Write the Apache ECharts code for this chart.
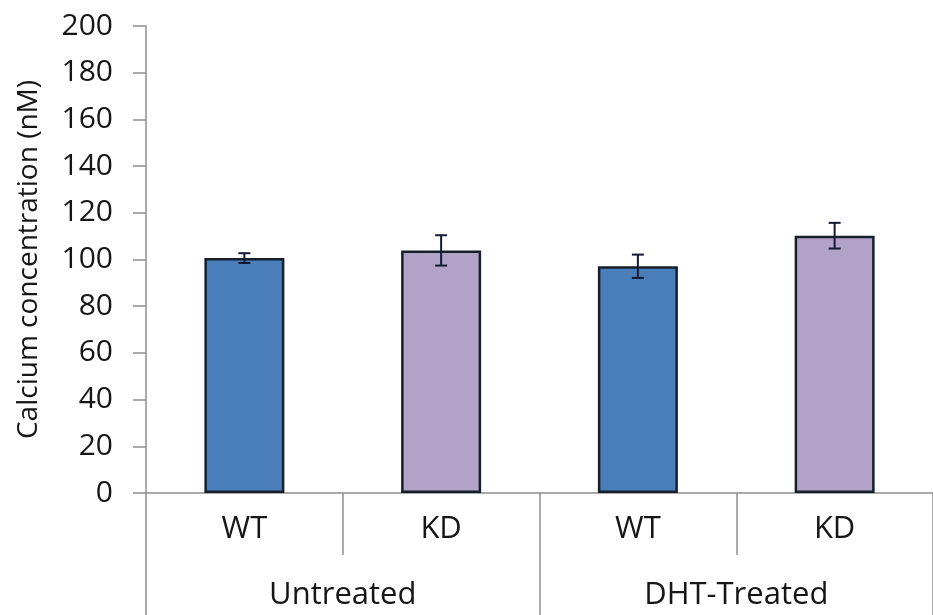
<!DOCTYPE html>
<html>
<head>
<meta charset="utf-8">
<script src="https://cdn.jsdelivr.net/npm/echarts@6/dist/echarts.min.js"></script>
<style>
  html, body { margin: 0; padding: 0; background: #fff; }
  #chart { width: 933px; height: 615px; }
</style>
</head>
<body>
<div id="chart"></div>
<script>
// Calcium concentration per genotype, grouped by treatment
const genotypes = ['WT', 'KD', 'WT', 'KD'];
const treatments = ['Untreated', 'DHT-Treated'];
const means = [100.6, 103.9, 97.1, 110.2];
const errors = [2.1, 6.5, 5.0, 5.5];
const yTicks = { min: 0, max: 200, step: 20 };

const fillColors = { WT: '#4a7ebb', KD: '#b3a2c7' };
const axisGrey = '#8e8e8e';
const textColor = '#161616';
const fontFamily = '"Open Sans", "Liberation Sans", sans-serif';

const chart = echarts.init(document.getElementById('chart'));

const barData = means.map((v, i) => ({
  value: v,
  itemStyle: { color: fillColors[genotypes[i]] }
}));

const errorData = means.map((v, i) => [i, v - errors[i], v + errors[i]]);

chart.setOption({
  animation: false,
  backgroundColor: '#ffffff',
  grid: { left: 146, top: 26, width: 794, height: 467, containLabel: false },
  xAxis: [
    {
      type: 'category',
      data: genotypes,
      position: 'bottom',
      axisLine: { show: true, lineStyle: { color: axisGrey, width: 1.5 } },
      axisTick: { show: true, alignWithLabel: false, length: 62, lineStyle: { color: axisGrey, width: 1.5 } },
      axisLabel: { margin: 21, color: textColor, fontSize: 31, fontFamily: fontFamily }
    },
    {
      type: 'category',
      data: treatments,
      position: 'bottom',
      axisLine: { show: false },
      axisTick: { show: true, length: 125, lineStyle: { color: axisGrey, width: 1.5 } },
      axisLabel: { margin: 87, color: textColor, fontSize: 31, fontFamily: fontFamily }
    }
  ],
  yAxis: {
    type: 'value',
    min: yTicks.min,
    max: yTicks.max,
    interval: yTicks.step,
    name: 'Calcium concentration (nM)',
    nameLocation: 'middle',
    nameGap: 103,
    nameTextStyle: { color: textColor, fontSize: 28, fontFamily: fontFamily },
    axisLine: { show: true, lineStyle: { color: axisGrey, width: 1.5 } },
    axisTick: { show: true, length: 13, lineStyle: { color: axisGrey, width: 1.5 } },
    axisLabel: { margin: 33, color: textColor, fontSize: 30, fontFamily: fontFamily },
    splitLine: { show: false }
  },
  series: [
    {
      type: 'bar',
      xAxisIndex: 0,
      data: barData,
      barWidth: 80,
      itemStyle: { borderColor: '#16202c', borderWidth: 2.5 }
    },
    {
      type: 'custom',
      xAxisIndex: 0,
      data: errorData,
      z: 10,
      renderItem: function (params, api) {
        const x = api.value(0);
        const lo = api.coord([x, api.value(1)]);
        const hi = api.coord([x, api.value(2)]);
        const cap = 6;
        const style = { stroke: '#141a33', lineWidth: 2 };
        return {
          type: 'group',
          children: [
            { type: 'line', shape: { x1: hi[0], y1: hi[1], x2: lo[0], y2: lo[1] }, style: style },
            { type: 'line', shape: { x1: hi[0] - cap, y1: hi[1], x2: hi[0] + cap, y2: hi[1] }, style: style },
            { type: 'line', shape: { x1: lo[0] - cap, y1: lo[1], x2: lo[0] + cap, y2: lo[1] }, style: style }
          ]
        };
      }
    }
  ]
});
</script>
</body>
</html>
